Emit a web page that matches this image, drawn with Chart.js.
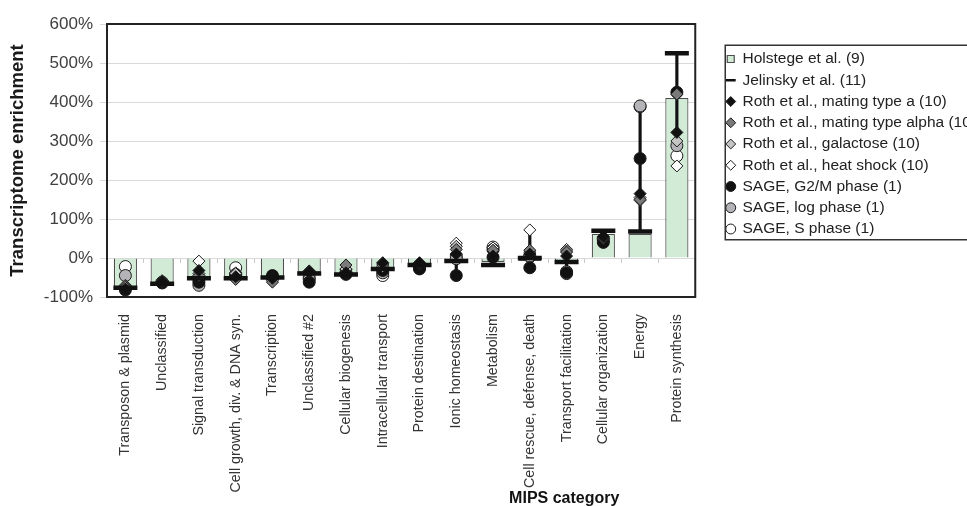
<!DOCTYPE html>
<html>
<head>
<meta charset="utf-8">
<script src="https://cdn.jsdelivr.net/npm/chart.js@4.4.1/dist/chart.umd.min.js"></script>
<style>
  html, body { margin: 0; padding: 0; background: #ffffff; overflow: hidden; }
  #wrap { width: 967px; height: 506px; position: relative; }
</style>
</head>
<body>
<div id="wrap"><canvas id="chart" width="967" height="506"></canvas></div>
<script>
// MIPS functional categories
const categories = [
  'Transposon & plasmid', 'Unclassified', 'Signal transduction',
  'Cell growth, div. & DNA syn.', 'Transcription', 'Unclassified #2',
  'Cellular biogenesis', 'Intracellular transport', 'Protein destination',
  'Ionic homeostasis', 'Metabolism', 'Cell rescue, defense, death',
  'Transport facilitation', 'Cellular organization', 'Energy', 'Protein synthesis'
];

// Transcriptome enrichment (%) per study
const holstege   = [-75, -72, -50, -52, -50, -37, -40, -30, -18, -10, -10,  -8, -12, 62,  62, 410];
const jelinsky   = [-76, -66, -52, -52, -50, -40, -42, -28, -18,  -8, -18,   0, -10, 70,  68, 525];
const rothA      = [-80, -60, -32, -48, -52, -35, -38, -12, -12,  10,   5,  10,   5, 55, 165, 322];
const rothAlpha  = [-75, -62, -45, -55, -62, -36, -18, -18, -14,  22,  20,  20,  15, 52, 150, 420];
const rothGal    = [-72, -58, -40, -40, -58, -34, -28, -15, -15,  30,  18,  15,  18, 50, 155, 300];
const rothHeat   = [-70, -60,  -8, -38, -55, -33, -30, -22, -14,  38,  26,  72,  22, 50, 148, 236];
const sageG2M    = [-82, -64, -62, -45, -45, -62, -42, -32, -28, -45,   2, -25, -38, 40, 255, 425];
const sageLog    = [-45, -62, -70, -42, -48, -55, -38, -38, -26,  -2,  22,   5, -35, 45, 390, 288];
const sageS      = [-22, -63, -55, -25, -50, -50, -40, -45, -24,   5,  28,   3, -40, 48, 388, 262];

// Y axis tick values (%)
const yMin = -100, yMax = 600, yStep = 100;

const FONT = "'Liberation Sans', Arial, Helvetica, sans-serif";
Chart.defaults.font.family = FONT;

const markerSeries = [jelinsky, rothA, rothAlpha, rothGal, rothHeat, sageG2M, sageLog, sageS];
// high-low span across every marker series in each category
const hiLo = categories.map((_, i) => {
  const vals = markerSeries.map(s => s[i]);
  return [Math.min(...vals), Math.max(...vals)];
});

function pointSet(label, data, style, fill, order, extra) {
  return Object.assign({
    type: 'line', label, data, showLine: false, order,
    pointStyle: style, pointRadius: 6, pointHoverRadius: 6,
    backgroundColor: fill, borderColor: '#1a1a1a', borderWidth: 1,
    pointBackgroundColor: fill, pointBorderColor: '#1a1a1a', pointBorderWidth: 1
  }, extra || {});
}

const datasets = [
  {
    type: 'bar', label: 'Holstege et al. (9)', data: holstege, order: 20,
    grouped: false, barPercentage: 0.63, categoryPercentage: 1,
    backgroundColor: '#d1ebd7', borderColor: '#4d4d4d', borderWidth: 1.2,
    pointStyle: 'rect'
  },
  pointSet('Jelinsky et al. (11)', jelinsky, 'line', '#111111', 1, {
    borderColor: '#111111', pointBorderColor: '#111111',
    pointRadius: 12, pointHoverRadius: 12, borderWidth: 4.5, pointBorderWidth: 4.5
  }),
  pointSet('Roth et al., mating type a (10)', rothA, 'rectRot', '#111111', 2),
  pointSet('Roth et al., mating type alpha (10)', rothAlpha, 'rectRot', '#7a7a7a', 3),
  pointSet('Roth et al., galactose (10)', rothGal, 'rectRot', '#c4c4c4', 4),
  pointSet('Roth et al., heat shock (10)', rothHeat, 'rectRot', '#ffffff', 5),
  pointSet('SAGE, G2/M phase (1)', sageG2M, 'circle', '#111111', 6),
  pointSet('SAGE, log phase (1)', sageLog, 'circle', '#b4b4b8', 7),
  pointSet('SAGE, S phase (1)', sageS, 'circle', '#ffffff', 8),
  {
    type: 'bar', label: 'hilo', data: hiLo, order: 15,
    grouped: false, barThickness: 2.5,
    backgroundColor: '#111111', borderWidth: 0
  }
];
const HILO = datasets.length - 1;
const JEL = 1;

// dark frame around the plot area
const plotFrame = {
  id: 'plotFrame',
  beforeDatasetsDraw(chart) {
    const { ctx, chartArea: a } = chart;
    ctx.save();
    ctx.strokeStyle = '#222222';
    ctx.lineWidth = 2;
    ctx.strokeRect(a.left, a.top, a.right - a.left, a.bottom - a.top);
    ctx.restore();
  }
};

// border around the legend (right side runs off the canvas)
const legendFrame = {
  id: 'legendFrame',
  afterDraw(chart) {
    const lg = chart.legend;
    const boxes = lg && lg.legendHitBoxes;
    if (!boxes || !boxes.length) return;
    const first = boxes[0], last = boxes[boxes.length - 1];
    const ctx = chart.ctx;
    ctx.save();
    ctx.strokeStyle = '#333333';
    ctx.lineWidth = 1.5;
    const x = first.left - 1.5;
    const y = first.top - 6;
    const h = last.top + last.height + 3 - y;
    ctx.strokeRect(x, y, 400, h);
    ctx.restore();
  }
};

// x-axis caption
const xCaption = {
  id: 'xCaption',
  afterDraw(chart) {
    const ctx = chart.ctx;
    const a = chart.chartArea;
    ctx.save();
    ctx.font = 'bold 16px ' + FONT;
    ctx.fillStyle = '#111111';
    ctx.textAlign = 'center';
    ctx.textBaseline = 'alphabetic';
    ctx.fillText('MIPS category', a.right - 131, 503);
    ctx.restore();
  }
};

new Chart(document.getElementById('chart'), {
  type: 'bar',
  data: { labels: categories, datasets },
  plugins: [plotFrame, legendFrame, xCaption],
  options: {
    responsive: false,
    devicePixelRatio: 1,
    animation: false,
    layout: { padding: { top: 24, right: 0, bottom: 0, left: 0 } },
    plugins: {
      tooltip: { enabled: false },
      legend: {
        position: 'right',
        align: 'start',
        maxWidth: 246,
        title: { display: true, text: '', padding: 0, font: { size: 10, lineHeight: '21.5px' } },
        labels: {
          usePointStyle: true,
          boxWidth: 8,
          boxHeight: 7,
          padding: 5.75,
          color: '#222222',
          font: { size: 15.5 },
          filter: item => item.datasetIndex !== HILO,
          sort: (a, b) => a.datasetIndex - b.datasetIndex,
          generateLabels(chart) {
            const items = Chart.defaults.plugins.legend.labels.generateLabels(chart);
            items.forEach(it => { if (it.datasetIndex === JEL) it.lineWidth = 2.5; });
            return items;
          }
        }
      }
    },
    scales: {
      x: {
        type: 'category',
        offset: true,
        grid: { display: false, drawTicks: false },
        border: { display: false },
        ticks: {
          autoSkip: false, maxRotation: 90, minRotation: 90,
          padding: 17, color: '#333333', font: { size: 14.3 }
        },
        afterFit(scale) { scale.height = 209; }
      },
      x2: {
        type: 'category',
        axis: 'x',
        labels: categories,
        position: { y: 0 },
        offset: true,
        grid: { display: true, drawOnChartArea: false, drawTicks: true, tickLength: 5, color: '#c8c8c8', offset: true },
        border: { display: false },
        ticks: { display: false }
      },
      y: {
        type: 'linear',
        min: yMin, max: yMax,
        ticks: {
          stepSize: yStep,
          padding: 7,
          color: '#404040',
          font: { size: 17 },
          callback: v => v + '%'
        },
        grid: { color: '#d9d9d9', lineWidth: 1, drawTicks: true, tickLength: 7 },
        border: { display: false },
        title: {
          display: true,
          text: 'Transcriptome enrichment',
          color: '#1a1a1a',
          font: { size: 18.5, weight: 'bold' },
          padding: { top: 7, bottom: 0 }
        },
        afterFit(scale) { scale.width = 107; }
      },
      y2: {
        type: 'linear',
        position: 'right',
        display: true,
        grid: { display: false, drawTicks: false },
        border: { display: false },
        ticks: { display: false },
        afterFit(scale) { scale.width = 25.75; }
      }
    }
  }
});
</script>
</body>
</html>
